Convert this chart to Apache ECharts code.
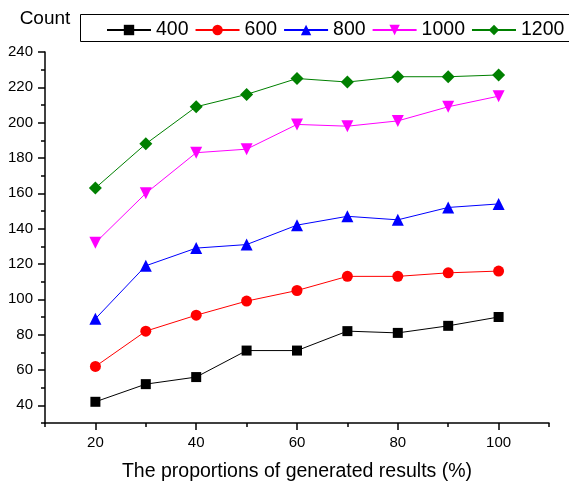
<!DOCTYPE html>
<html>
<head>
<meta charset="utf-8">
<script src="https://cdn.jsdelivr.net/npm/echarts@6/dist/echarts.min.js"></script>
<style>html,body{margin:0;padding:0;background:#fff}#c{width:569px;height:483px}</style>
</head>
<body>
<div id="c"></div>
<script>
const xValues = [20, 30, 40, 50, 60, 70, 80, 90, 100];
const seriesNames = ['400', '600', '800', '1000', '1200'];
const s400 = [42, 52, 56, 71, 71, 82, 81, 85, 90];
const s600 = [62, 82, 91, 99, 105, 113, 113, 115, 116];
const s800 = [89, 119, 129, 131, 142, 147, 145, 152, 154];
const s1000 = [132, 160, 183, 185, 199, 198, 201, 209, 215];
const s1200 = [163, 188, 209, 216, 225, 223, 226, 226, 227];
const xMajorTicks = [20, 40, 60, 80, 100];
const xMinorTicks = [10, 30, 50, 70, 90, 110];
const yMajorTicks = [40, 60, 80, 100, 120, 140, 160, 180, 200, 220, 240];
const yMinorTicks = [30, 50, 70, 90, 110, 130, 150, 170, 190, 210, 230];

const font = 'Liberation Sans, Arial, sans-serif';
const colors = ['#000000', '#ff0000', '#0000ff', '#ff00ff', '#008000'];
const symbols = ['rect', 'circle', 'triangle', 'path://M0,0 L10,0 L5,10 Z', 'path://M5,0 L10,5 L5,10 L0,5 Z'];
const sizes = [10, 11, 12, 12, 13];
const allData = [s400, s600, s800, s1000, s1200];

const chart = echarts.init(document.getElementById('c'), null, {renderer: 'canvas'});
const axisLine = {show: true, lineStyle: {color: '#000', width: 1.5}};
chart.setOption({
  animation: false,
  backgroundColor: '#fff',
  textStyle: {fontFamily: font},
  grid: {left: 45, right: 20, top: 52, bottom: 60, containLabel: false, outerBoundsMode: 'none'},
  graphic: [{
    type: 'rect', shape: {x: 80.5, y: 14.5, width: 520, height: 27},
    style: {fill: 'none', stroke: '#000', lineWidth: 1}, z: 0
  }],
  legend: {
    left: 106, top: 20, width: 600, padding: 0, orient: 'horizontal',
    itemWidth: 44, itemHeight: 13, itemGap: 6,
    textStyle: {fontSize: 19.5, color: '#000', fontFamily: font},
    data: seriesNames
  },
  xAxis: [{
    type: 'value', min: 10, max: 110, interval: 10,
    name: 'The proportions of generated results (%)',
    nameLocation: 'middle', nameGap: 39,
    nameTextStyle: {fontSize: 19.5, color: '#000', fontFamily: font},
    axisLine: axisLine,
    axisTick: {show: true, length: 7, customValues: xMajorTicks, lineStyle: {color: '#000', width: 1.5}},
    axisLabel: {fontSize: 15, color: '#000', margin: 12, customValues: xMajorTicks},
    splitLine: {show: false}
  }, {
    type: 'value', min: 10, max: 110, interval: 10, position: 'bottom',
    axisLine: {show: false},
    axisTick: {show: true, length: 4, customValues: xMinorTicks, lineStyle: {color: '#000', width: 1.5}},
    axisLabel: {show: false},
    splitLine: {show: false}
  }],
  yAxis: [{
    type: 'value', min: 30, max: 240, interval: 10,
    name: 'Count', nameLocation: 'end', nameGap: 24,
    nameTextStyle: {fontSize: 19, color: '#000', fontFamily: font},
    axisLine: axisLine,
    axisTick: {show: true, length: 7, customValues: yMajorTicks, lineStyle: {color: '#000', width: 1.5}},
    axisLabel: {fontSize: 15, color: '#000', margin: 12, customValues: yMajorTicks},
    splitLine: {show: false}
  }, {
    type: 'value', min: 30, max: 240, interval: 10, position: 'left',
    axisLine: {show: false},
    axisTick: {show: true, length: 4, customValues: yMinorTicks, lineStyle: {color: '#000', width: 1.5}},
    axisLabel: {show: false},
    splitLine: {show: false}
  }],
  series: seriesNames.map((n, i) => ({
    name: n, type: 'line',
    data: xValues.map((x, j) => [x, allData[i][j]]),
    symbol: symbols[i], symbolSize: sizes[i],
    lineStyle: {color: colors[i], width: 1},
    itemStyle: {color: colors[i], opacity: 1},
    z: 2 + i
  }))
});
</script>
</body>
</html>
